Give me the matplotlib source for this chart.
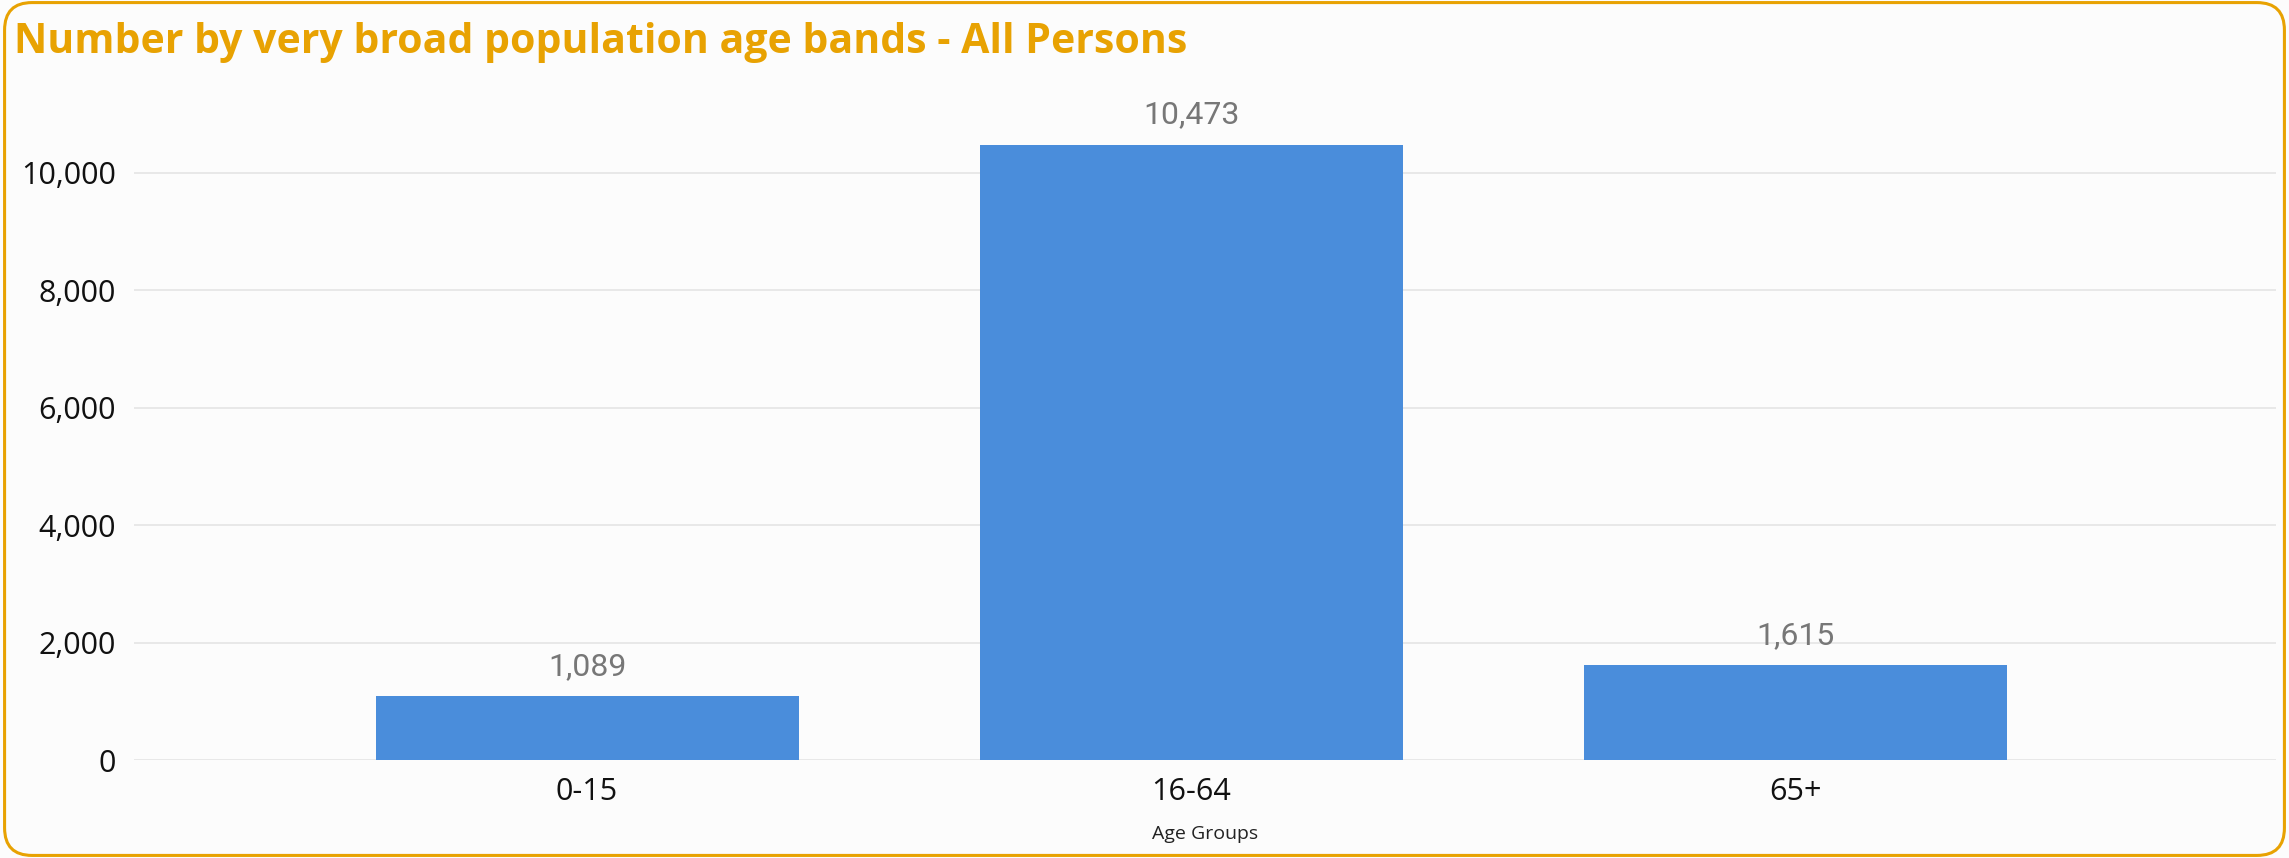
import matplotlib.pyplot as plt
from matplotlib.patches import FancyBboxPatch
from matplotlib.ticker import FuncFormatter

# data
age_groups = ["0-15", "16-64", "65+"]
persons = [1089, 10473, 1615]
y_ticks = [0, 2000, 4000, 6000, 8000, 10000]

title_text = "Number by very broad population age bands - All Persons"
gold = "#E8A202"
bar_blue = "#4A8DDB"

fig = plt.figure(figsize=(22.89, 8.58), dpi=100)
fig.patch.set_facecolor("#FCFCFC")

# rounded gold border round the whole card
border = FancyBboxPatch((0.002, 0.003), 0.996, 0.994,
                        boxstyle="round,pad=0,rounding_size=0.012",
                        transform=fig.transFigure, facecolor="none",
                        edgecolor=gold, linewidth=2.2, mutation_aspect=2.67)
fig.patches.append(border)

ax = fig.add_axes([0.0585, 0.1142, 0.9358, 0.753])
ax.set_facecolor("#FCFCFC")

x = range(len(age_groups))
bars = ax.bar(x, persons, width=0.7, color=bar_blue, zorder=3)

for b, v in zip(bars, persons):
    ax.text(b.get_x() + b.get_width() / 2, v + 260, f"{v:,}",
            ha="center", va="bottom", fontsize=23, color="#777777",
            family="Roboto", clip_on=False)

ax.set_xlim(-0.75, 2.795)
ax.set_ylim(0, 11000)
ax.set_yticks(y_ticks)
ax.yaxis.set_major_formatter(FuncFormatter(lambda v, p: f"{int(v):,}"))
ax.set_xticks(list(x))
ax.set_xticklabels(age_groups)

ax.grid(axis="y", color="#E6E6E6", linewidth=1.3, zorder=0)
for s in ax.spines.values():
    s.set_visible(False)
ax.tick_params(axis="both", length=0, labelsize=22, labelcolor="#111111",
               labelfontfamily="Open Sans")
ax.tick_params(axis="y", pad=13)
ax.tick_params(axis="x", pad=12)

ax.set_xlabel("Age Groups", fontsize=14, color="#222222",
              family="Open Sans", labelpad=13)

fig.text(0.006, 0.951, title_text, ha="left", va="center",
         fontsize=29.5, fontweight="bold", color=gold, family="Open Sans")

fig.savefig("out.png", dpi=100, facecolor=fig.get_facecolor())
